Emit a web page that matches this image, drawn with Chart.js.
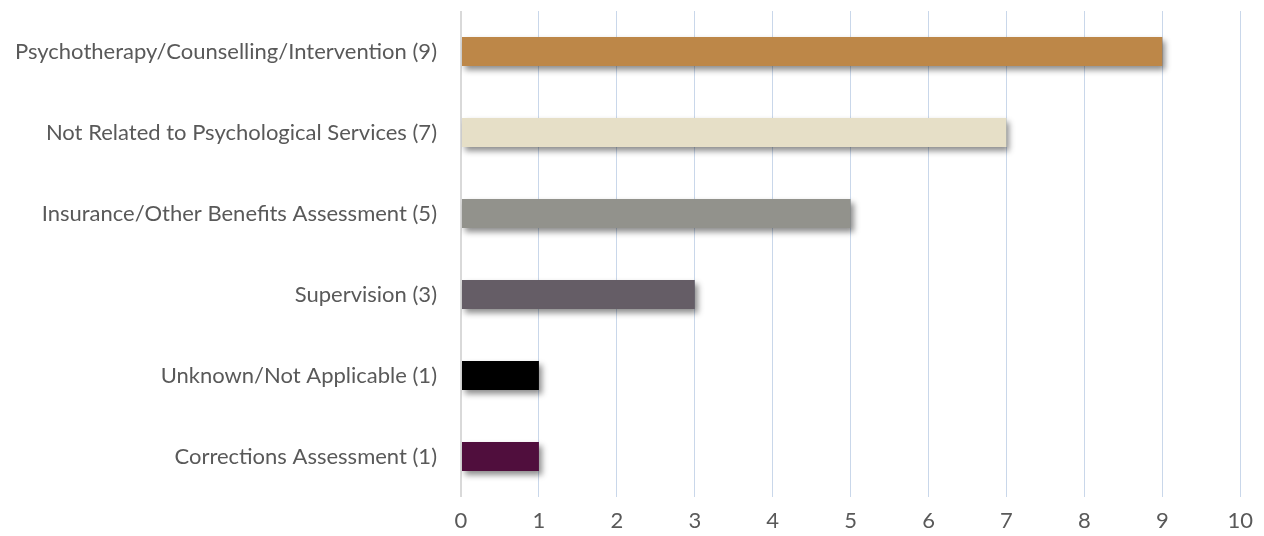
<!DOCTYPE html>
<html>
<head>
<meta charset="utf-8">
<script src="https://cdn.jsdelivr.net/npm/chart.js@4"></script>
<style>
  html, body { margin: 0; padding: 0; background: #fff; }
  #wrap { width: 1264px; height: 536px; }
</style>
</head>
<body>
<div id="wrap"><canvas id="servicesChart" width="1264" height="536"></canvas></div>
<script>
  // Categories, top to bottom
  var categories = [
    'Psychotherapy/Counselling/Intervention (9)',
    'Not Related to Psychological Services (7)',
    'Insurance/Other Benefits Assessment (5)',
    'Supervision (3)',
    'Unknown/Not Applicable (1)',
    'Corrections Assessment (1)'
  ];
  var counts = [9, 7, 5, 3, 1, 1];
  var barColors = ['#BD8748', '#E6DFC7', '#92928C', '#655D66', '#000000', '#500E3D'];

  var labelFont = { family: 'Lato', size: 22 };

  // soft drop shadow under the bars
  var barShadow = {
    id: 'barShadow',
    beforeDatasetsDraw: function (chart) {
      var ctx = chart.ctx;
      ctx.save();
      ctx.shadowColor = 'rgba(0,0,0,0.45)';
      ctx.shadowBlur = 6;
      ctx.shadowOffsetX = 3;
      ctx.shadowOffsetY = 4;
    },
    afterDatasetsDraw: function (chart) {
      chart.ctx.restore();
    }
  };

  new Chart(document.getElementById('servicesChart'), {
    type: 'bar',
    data: {
      labels: categories,
      datasets: [{
        data: counts,
        backgroundColor: barColors,
        barPercentage: 0.6,
        categoryPercentage: 0.6
      }]
    },
    options: {
      indexAxis: 'y',
      responsive: false,
      animation: false,
      layout: { padding: { top: 11, right: 23, bottom: 0, left: 0 } },
      plugins: { legend: { display: false }, tooltip: { enabled: false } },
      scales: {
        x: {
          min: 0,
          max: 10,
          ticks: { stepSize: 1, color: '#595959', padding: 11, font: labelFont },
          grid: {
            drawTicks: false,
            color: function (c) { return c.tick && c.tick.value === 0 ? '#d9d9d9' : '#c9d7ea'; },
            lineWidth: function (c) { return c.tick && c.tick.value === 0 ? 2 : 1; }
          },
          border: { display: false },
          afterFit: function (scale) { scale.height = 39; }
        },
        y: {
          ticks: { color: '#595959', padding: 16, font: labelFont },
          grid: { display: false },
          border: { display: false },
          afterFit: function (scale) {
            scale.width = 461;
            scale.paddingTop = 0;
            scale.paddingBottom = 0;
          }
        }
      }
    },
    plugins: [barShadow]
  });
</script>
</body>
</html>
